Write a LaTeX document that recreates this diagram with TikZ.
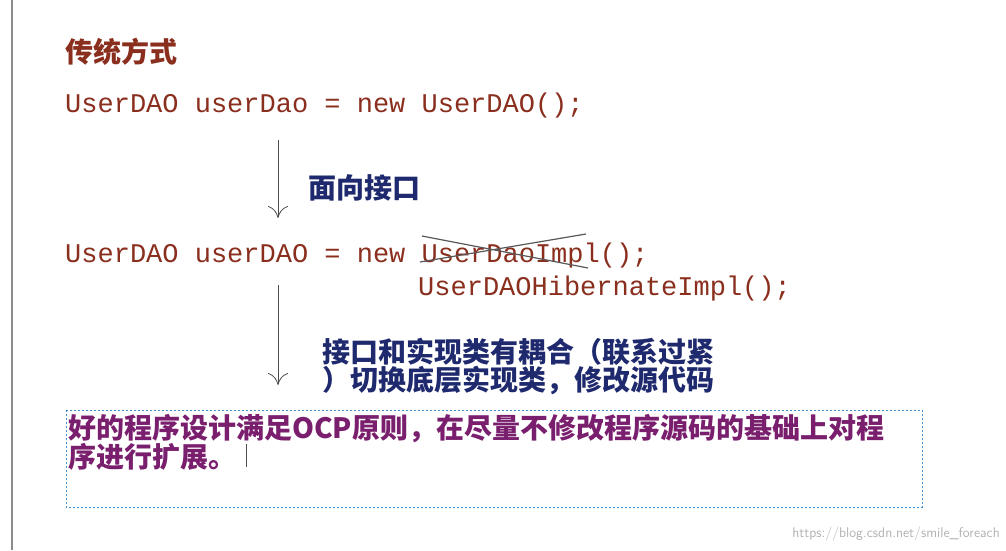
\documentclass[tikz,border=0pt]{standalone}
\usepackage{fontspec}
\setmonofont{Liberation Mono}
\newfontfamily\cjk{Noto Sans CJK SC}
\usetikzlibrary{positioning,arrows.meta}
\definecolor{codered}{HTML}{8A2E1E}
\definecolor{navyblue}{HTML}{1F2A6E}
\definecolor{boxpurple}{HTML}{7A1F6E}
\definecolor{dashblue}{HTML}{3D8FD6}
\tikzset{
  code/.style={anchor=base west, inner sep=0pt, font=\ttfamily\fontsize{27}{30}\selectfont, text=codered},
  cntext/.style={anchor=base west, inner sep=0pt, font=\cjk\bfseries\fontsize{28}{28}\selectfont},
  flow/.style={draw=black!70, line width=0.8pt, -{To[length=12pt,width=20pt]}}
}
\begin{document}
\begin{tikzpicture}[x=1pt,y=-1pt]
  \useasboundingbox (0,0) rectangle (1006,550);
  \fill[white] (0,0) rectangle (1006,550);
  \draw[black!45, line width=2pt] (12,0) -- (12,550);

  \node[cntext, text=codered] (title) at (65,62) {传统方式};
  \node[code] (old) at (65,112) {UserDAO userDao = new UserDAO();};
  \coordinate (a1s) at (278,140);
  \coordinate (a1e) at (278,218);
  \draw[flow] (a1s) -- (a1e);
  \node[cntext, text=navyblue] (iface) at (308,198) {面向接口};

  \node[code] (mid) at (65,262) {UserDAO userDAO = new UserDaoImpl();};
  \node[code] (hib) at (418,295) {UserDAOHibernateImpl();};
  \coordinate (x1) at (422,236);
  \coordinate (x2) at (588,268);
  \coordinate (x3) at (420,262);
  \coordinate (x4) at (586,234);
  \draw[black!65, line width=1.2pt] (x1) -- (x2) (x3) -- (x4);

  \coordinate (a2s) at (278,285);
  \coordinate (a2e) at (278,385);
  \draw[flow] (a2s) -- (a2e);
  \node[cntext, text=navyblue, align=left, anchor=north west] (couple) at (322,338)
    {接口和实现类有耦合（联系过紧\\）切换底层实现类，修改源代码};

  \draw[dashblue, line width=1pt, dash pattern=on 2pt off 2pt] (66,410) rectangle (922,507);
  \node[cntext, text=boxpurple, align=left, anchor=north west] (ocp) at (68,414)
    {好的程序设计满足OCP原则，在尽量不修改程序源码的基础上对程\\序进行扩展。};
  \draw[black!70, line width=0.7pt] (246,444) -- (246,467);

  \node[anchor=base east, inner sep=0pt, text=black!30, font=\sffamily\fontsize{14}{14}\selectfont] (wm) at (1000,537) {https://blog.csdn.net/smile\_foreach};
\end{tikzpicture}
\end{document}
